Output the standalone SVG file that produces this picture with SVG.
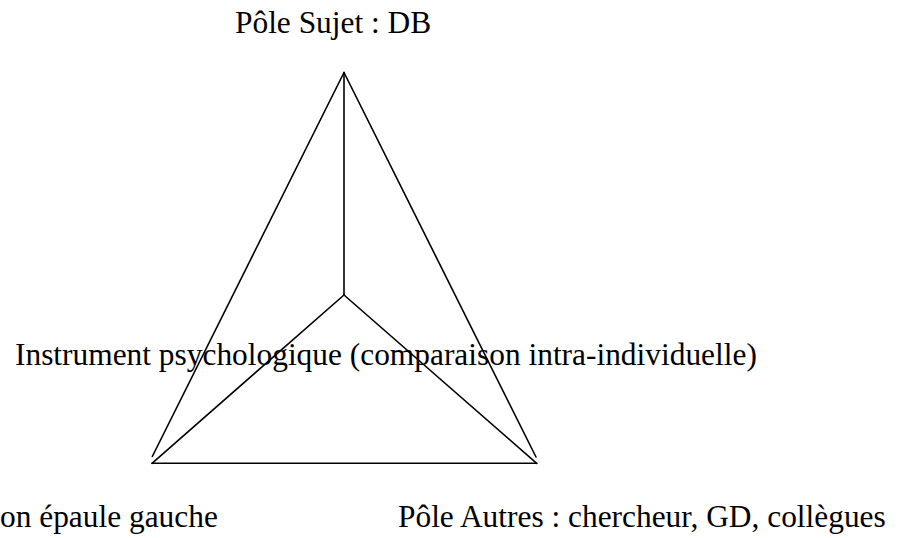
<svg xmlns="http://www.w3.org/2000/svg" width="900" height="538" viewBox="0 0 900 538">
<style>
text { font-family: "Liberation Serif", "Times New Roman", serif; font-size: 31.4px; fill: #000; }
.ln { stroke: #000; stroke-width: 1.6; fill: none; stroke-linecap: round; }
</style>
<rect width="900" height="538" fill="#fff"/>
<g id="connectors">
<line class="ln" x1="344" y1="72.5" x2="152.3" y2="456.5"/>
<line class="ln" x1="344" y1="72.5" x2="536" y2="457"/>
<line class="ln" x1="152" y1="463.3" x2="536.7" y2="463.3"/>
<line class="ln" x1="344" y1="72.5" x2="344" y2="295"/>
<line class="ln" x1="344" y1="295" x2="152" y2="463.3"/>
<line class="ln" x1="344" y1="295" x2="536.7" y2="463.3"/>
</g>
<g id="pole-sujet"><text x="235" y="33">Pôle Sujet : DB</text></g>
<g id="instrument"><text x="15" y="365">Instrument psychologique (comparaison intra-individuelle)</text></g>
<g id="pole-objet"><text x="0" y="527">on épaule gauche</text></g>
<g id="pole-autres"><text x="398" y="527">Pôle Autres : chercheur, GD, collègues</text></g>
</svg>
